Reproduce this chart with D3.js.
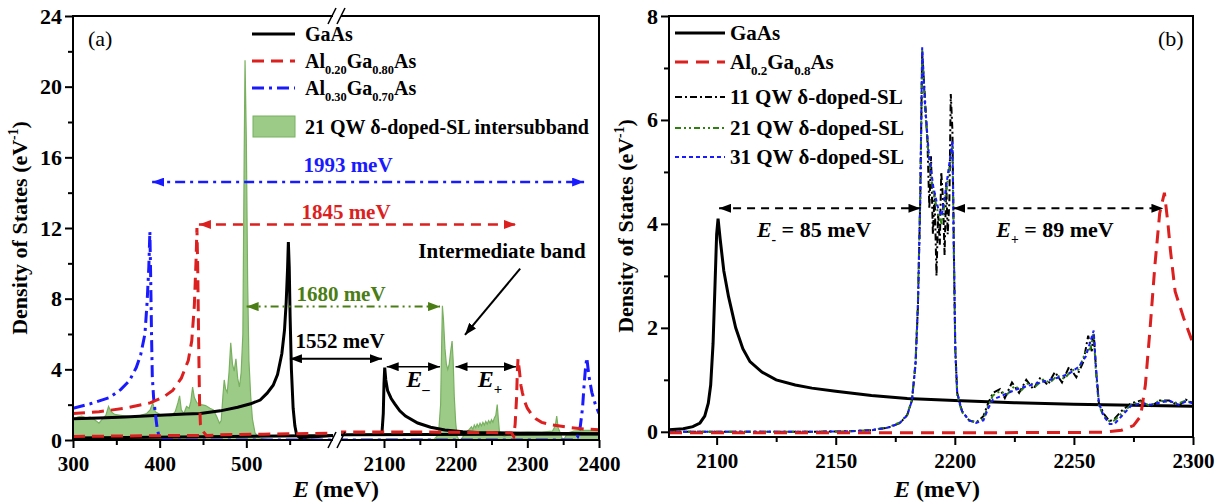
<!DOCTYPE html>
<html>
<head>
<meta charset="utf-8">
<script src="https://cdn.jsdelivr.net/npm/d3@7"></script>
<style>
body{margin:0;background:#fff;}
svg text{font-family:"Liberation Serif","Tinos","Times New Roman","Times","DejaVu Serif","Noto Serif",serif;font-weight:bold;}
</style>
</head>
<body>
<svg id="chart" width="1230" height="504"></svg>
<script>
// ---- panel (a) data: [E (meV), DOS (eV^-1)] ----
var gaasA = [[300,1.2],[330,1.24],[360,1.3],[400,1.4],[430,1.47],[447,1.5],[470,1.65],[490,1.85],[505,2.05],[516,2.26],[524,2.65],[531,3.1],[536,3.7],[541,4.9],[544,6.2],[546,7.8],[547.5,9.6],[548.5,11.2],[549.5,9.8],[550.5,7.0],[552,4.0],[554,1.8],[556,0.8],[558,0.3],[562,0.1],[570,0.15],[600,0.25]];
var gaasBaseA = [[300,0.12],[600,0.26],[2040,0.3],[2400,0.34]];
var gaasCondA = [[2097,0.3],[2099,1.5],[2100,3.2],[2101,4.1],[2102.5,3.4],[2105,2.8],[2110,2.35],[2115,2.05],[2122,1.65],[2130,1.35],[2147,0.96],[2165,0.72],[2185,0.57],[2210,0.47],[2230,0.42],[2300,0.38],[2400,0.36]];
var alga20A = [[300,1.5],[330,1.6],[360,1.8],[389,2.1],[405,2.45],[415,2.8],[425,3.5],[433,4.5],[437,5.6],[440,7.6],[442,10.2],[443,12.0],[444,9.5],[445,5.5],[446,2.2],[447,0.9],[450,0.5],[454,0.25],[470,0.3],[520,0.33],[600,0.38],[2040,0.45],[2150,0.45],[2250,0.42],[2278,0.4],[2281,0.2],[2283,0.9],[2285,2.4],[2286,3.8],[2287,4.6],[2289,3.9],[2291,3.1],[2293,2.7],[2296,2.2],[2300,1.8],[2305,1.5],[2312,1.2],[2320,1.0],[2335,0.85],[2360,0.7],[2380,0.62],[2400,0.58]];
var alga20BaseA = [[300,0.2],[380,0.24],[454,0.26]];
var alga30A = [[300,1.8],[320,2.05],[342,2.4],[355,2.85],[365,3.35],[373,4.1],[378,4.8],[383,6.0],[385.5,7.8],[387.5,9.8],[388.7,11.8],[389.7,9.0],[390.6,6.0],[391.5,3.6],[393,2.4],[395,1.5],[397,0.7],[399,0.25],[402,0.03],[420,0],[2365,0],[2370,0.15],[2374,0.8],[2377,1.8],[2379,3.0],[2381,4.0],[2383,4.65],[2386,3.6],[2390,2.7],[2395,2.0],[2400,1.5]];
var sl21A = [[300,1.13],[305,1.3],[310,1.35],[315,1.25],[320,1.3],[325,1.15],[330,0.95],[334,1.2],[338,1.4],[341,1.9],[344,1.6],[348,1.45],[355,1.4],[362,1.35],[370,1.3],[378,1.4],[385,1.5],[389,1.7],[392,2.1],[395,1.6],[400,1.45],[407,1.4],[413,1.35],[418,1.6],[421,2.1],[423,2.5],[425,1.7],[428,1.5],[431,1.9],[434,1.8],[436,2.2],[438,3.0],[440,2.4],[443,2.1],[448,2.0],[453,1.95],[458,1.8],[462,1.7],[466,1.3],[469,0.95],[471,1.1],[473,2.5],[474.5,3.4],[476,2.9],[478,2.7],[480,3.8],[482,5.5],[484,4.3],[486,3.9],[488,4.6],[490,3.5],[492,3.0],[494,3.8],[496,6.0],[497.5,16.0],[498.5,21.5],[500,17.0],[501.5,9.0],[503,4.5],[505,2.5],[507,1.2],[510,0.4],[515,0.1],[525,0.02],[600,0.02],[2040,0.02],[2170,0.05],[2176,0.3],[2179,2.0],[2180.5,5.5],[2181.5,7.6],[2183,6.8],[2185,5.2],[2187,4.3],[2189,4.0],[2191,4.3],[2193,5.0],[2195,5.6],[2196.5,4.5],[2198,2.5],[2200,1.0],[2202,0.2],[2205,0.0],[2208,0.05],[2212,0.3],[2216,0.5],[2219,0.6],[2222,0.75],[2224,0.6],[2226,0.85],[2228,0.7],[2230,0.9],[2232,0.75],[2234,0.95],[2236,0.8],[2238,1.0],[2240,0.85],[2242,1.05],[2244,0.9],[2246,1.1],[2248,0.95],[2250,1.15],[2252,1.0],[2254,1.25],[2256,1.4],[2258,2.0],[2259.5,1.2],[2261,0.5],[2264,0.3],[2268,0.2],[2275,0.35],[2285,0.4],[2300,0.45],[2320,0.45],[2335,0.5],[2339,0.8],[2341,1.35],[2343,0.7],[2346,0.4],[2349,0.05],[2352,0.1],[2356,0.4],[2365,0.5],[2380,0.55],[2400,0.55]];

// ---- panel (b) data ----
var gaasB = [[2080,0.04],[2086,0.06],[2090,0.1],[2093,0.17],[2095,0.3],[2096.5,0.55],[2097.5,0.9],[2098.5,1.7],[2099.3,2.8],[2100,3.8],[2100.6,4.1],[2101.5,3.7],[2103,3.1],[2105,2.6],[2108,2.0],[2111,1.6],[2114,1.35],[2119,1.15],[2125,1.0],[2133,0.9],[2140,0.84],[2150,0.78],[2165,0.7],[2180,0.64],[2200,0.6],[2225,0.56],[2250,0.53],[2275,0.51],[2300,0.49]];
var alga20B = [[2080,-0.02],[2200,-0.02],[2262,-0.01],[2270,0.03],[2275,0.12],[2278,0.3],[2280,0.9],[2282,2.0],[2284,3.2],[2286,4.2],[2288,4.6],[2289.5,4.0],[2290.5,3.5],[2292.5,2.7],[2296,2.2],[2300,1.7]];
var sl11B = [[2080,0],[2140,0],[2155,0.01],[2165,0.03],[2172,0.08],[2177,0.17],[2180,0.32],[2182,0.6],[2183.5,1.3],[2184.5,2.4],[2185.5,4.5],[2186.3,7.3],[2187.5,6.4],[2188.5,5.6],[2189.3,4.3],[2190,5.3],[2190.8,3.8],[2191.5,4.6],[2192.3,3.0],[2193,4.2],[2193.7,3.6],[2194.3,5.0],[2195,4.5],[2195.7,3.4],[2196.4,4.8],[2197,3.8],[2197.7,4.4],[2198.3,6.5],[2199,5.8],[2199.6,3.5],[2200.2,1.6],[2201,0.75],[2203,0.4],[2206,0.22],[2209,0.18],[2212,0.3],[2214,0.55],[2216,0.75],[2219,0.82],[2221,0.65],[2224,0.95],[2227,0.75],[2230,1.0],[2233,0.82],[2236,1.05],[2239,0.9],[2242,1.15],[2245,0.95],[2248,1.25],[2251,1.05],[2254,1.35],[2256,1.85],[2257.5,1.55],[2258.3,1.9],[2259.3,1.2],[2260.5,0.55],[2262.5,0.35],[2265,0.2],[2267,0.25],[2270,0.4],[2274,0.55],[2278,0.6],[2282,0.48],[2286,0.6],[2290,0.6],[2294,0.5],[2297,0.62],[2300,0.55]];
var sl21B = [[2080,0],[2140,0],[2155,0.01],[2165,0.03],[2172,0.09],[2177,0.18],[2180,0.33],[2182,0.62],[2183.5,1.35],[2184.5,2.5],[2185.5,4.6],[2186.3,7.35],[2187.5,6.2],[2189,5.3],[2191,4.6],[2193,4.2],[2194.5,4.0],[2196,4.5],[2197.5,5.0],[2199,5.5],[2199.6,3.4],[2200.2,1.5],[2201,0.7],[2203,0.38],[2206,0.22],[2209,0.18],[2212,0.25],[2214,0.5],[2216,0.7],[2219,0.78],[2222,0.72],[2225,0.88],[2228,0.8],[2231,0.95],[2234,0.88],[2237,1.0],[2240,0.95],[2243,1.08],[2246,1.02],[2249,1.18],[2252,1.2],[2255,1.55],[2257,1.6],[2258.3,1.9],[2259.3,1.1],[2260.5,0.5],[2262.5,0.3],[2265,0.2],[2267,0.22],[2270,0.35],[2274,0.52],[2278,0.58],[2282,0.5],[2286,0.6],[2290,0.58],[2294,0.55],[2297,0.6],[2300,0.55]];
var sl31B = [[2080,0],[2140,0],[2155,0.01],[2165,0.03],[2172,0.08],[2177,0.17],[2180,0.32],[2182,0.6],[2183.5,1.3],[2184.5,2.4],[2185.5,4.5],[2186.3,7.4],[2187.5,6.3],[2189,5.4],[2191,4.7],[2193,4.3],[2194.5,4.15],[2196,4.6],[2197.5,5.1],[2199,5.6],[2199.6,3.5],[2200.2,1.6],[2201,0.75],[2203,0.4],[2206,0.22],[2209,0.17],[2212,0.22],[2214,0.45],[2216,0.62],[2220,0.7],[2224,0.78],[2228,0.85],[2232,0.9],[2236,0.95],[2240,1.0],[2244,1.05],[2248,1.12],[2252,1.25],[2255,1.45],[2257,1.75],[2258.3,1.95],[2259.3,1.2],[2260.5,0.55],[2262.5,0.3],[2265,0.15],[2267,0.15],[2270,0.3],[2274,0.5],[2278,0.55],[2282,0.52],[2286,0.56],[2290,0.6],[2294,0.52],[2297,0.58],[2300,0.55]];

// tick labels
var yTicksA = [0,4,8,12,16,20,24];
var xTicksA = [300,400,500,2100,2200,2300,2400];
var yTicksB = [0,2,4,6,8];
var xTicksB = [2100,2150,2200,2250,2300];

// annotated energy gaps: [label, from, to, y]
var gapsA = [["1993 meV",389,2382,14.6],["1845 meV",443,2287,12.2],["1680 meV",498,2181,7.55],["1552 meV",548,2100,4.6]];
var subGapsA = [[2101,2181,4.15],[2197,2287,4.15]];
var gapsB = [[2100.6,2186,4.3],[2199,2288,4.3]];

var svg = d3.select("#chart");
var RED = "#dc1f1f", BLUE = "#1a1aff", GREEN = "#4a7d14", GREEN2 = "#2f8010", FILL = "#9ccb88";
var FONT = '"Liberation Serif","Tinos","Times New Roman","Times","DejaVu Serif","Noto Serif",serif';

// scales
var xA = d3.scaleLinear().domain([300,600,2040,2400]).range([73,333,341,599]);
var yA = d3.scaleLinear().domain([0,24]).range([440,16]);
var xB = d3.scaleLinear().domain([2080,2300]).range([669,1193]);
var yB = d3.scaleLinear().domain([-0.1,8]).range([437,16]);

// markers
var defs = svg.append("defs");
[["black","#000"],["red",RED],["blue",BLUE],["green",GREEN]].forEach(function(c){
    defs.append("marker").attr("id","arr-"+c[0])
        .attr("viewBox","0 0 12 9").attr("refX",12).attr("refY",4.5)
        .attr("markerWidth",12).attr("markerHeight",9)
        .attr("markerUnits","userSpaceOnUse").attr("orient","auto-start-reverse")
        .append("path").attr("d","M0,0L12,4.5L0,9Z").attr("fill",c[1]);
});
var clipA = defs.append("clipPath").attr("id","clipA");
clipA.append("rect").attr("x",73).attr("y",16).attr("width",260).attr("height",424);
clipA.append("rect").attr("x",341).attr("y",16).attr("width",258).attr("height",424);
defs.append("clipPath").attr("id","clipB").append("rect")
    .attr("x",669).attr("y",16).attr("width",524).attr("height",421);

// rich text helper: parts [text, kind]
function rich(t, parts, fs){
    var shift = 0;
    t.attr("font-family", FONT);
    parts.forEach(function(p){
        var target = 0, s = t.append("tspan").text(p[0]);
        if(p[1] === "sub"){ target = fs*0.3; s.attr("font-size", fs*0.62); }
        if(p[1] === "sup"){ target = -fs*0.4; s.attr("font-size", fs*0.62); }
        if(p[1] === "it"){ s.attr("font-style","italic"); }
        if(target !== shift){ s.attr("dy", target - shift); shift = target; }
    });
    return t;
}

// ================= panel (a) =================
var gA = svg.append("g");
var plotA = gA.append("g").attr("clip-path","url(#clipA)");
var lineA = d3.line().x(function(d){ return xA(d[0]); }).y(function(d){ return yA(d[1]); });
var areaA = d3.area().x(function(d){ return xA(d[0]); }).y0(yA(0)).y1(function(d){ return yA(d[1]); });

plotA.append("path").attr("d", areaA(sl21A)).attr("fill", FILL).attr("stroke","#79b060").attr("stroke-width",1.2);
plotA.append("path").attr("d", lineA(gaasBaseA)).attr("fill","none").attr("stroke","#000").attr("stroke-width",3);
plotA.append("path").attr("d", lineA(gaasA)).attr("fill","none").attr("stroke","#000").attr("stroke-width",3);
plotA.append("path").attr("d", lineA(gaasCondA)).attr("fill","none").attr("stroke","#000").attr("stroke-width",3);
plotA.append("path").attr("d", lineA(alga30A)).attr("fill","none").attr("stroke",BLUE).attr("stroke-width",3).attr("stroke-dasharray","12,5,3,5");
plotA.append("path").attr("d", lineA(alga20BaseA)).attr("fill","none").attr("stroke",RED).attr("stroke-width",3).attr("stroke-dasharray","12,7");
plotA.append("path").attr("d", lineA(alga20A)).attr("fill","none").attr("stroke",RED).attr("stroke-width",3).attr("stroke-dasharray","12,7");

// gap arrows
var gapStyle = [[BLUE,"blue","10,5,3,5",2.5],[RED,"red","10,7",2.5],[GREEN,"green","8,4,2,4,2,4",2],["#000","black",null,2]];
var gapText = [[348,172],[346,219],[341,301],[340,348]];
gapsA.forEach(function(g, i){
    var st = gapStyle[i];
    gA.append("line").attr("x1",xA(g[1])+2).attr("x2",xA(g[2])-2).attr("y1",yA(g[3])).attr("y2",yA(g[3]))
        .attr("stroke",st[0]).attr("stroke-width",st[3]).attr("stroke-dasharray",st[2])
        .attr("marker-start","url(#arr-"+st[1]+")").attr("marker-end","url(#arr-"+st[1]+")");
    rich(gA.append("text").attr("x",gapText[i][0]).attr("y",gapText[i][1]).attr("text-anchor","middle")
        .attr("font-size",21).attr("fill",st[0]), [[g[0],""]], 21);
});
subGapsA.forEach(function(g){
    gA.append("line").attr("x1",xA(g[0])+2).attr("x2",xA(g[1])-2).attr("y1",yA(g[2])).attr("y2",yA(g[2]))
        .attr("stroke","#000").attr("stroke-width",1.5)
        .attr("marker-start","url(#arr-black)").attr("marker-end","url(#arr-black)");
});
rich(gA.append("text").attr("x",418).attr("y",387).attr("text-anchor","middle").attr("font-size",24), [["E","it"],["\u2013","sub"]], 24);
rich(gA.append("text").attr("x",490).attr("y",387).attr("text-anchor","middle").attr("font-size",24), [["E","it"],["+","sub"]], 24);
rich(gA.append("text").attr("x",502).attr("y",258).attr("text-anchor","middle").attr("font-size",21), [["Intermediate band",""]], 21);
gA.append("line").attr("x1",xA(2290)).attr("y1",yA(9.7)).attr("x2",xA(2213)).attr("y2",yA(5.95))
    .attr("stroke","#000").attr("stroke-width",2).attr("marker-end","url(#arr-black)");

// frame with axis break
var fr = gA.append("g").attr("stroke","#000").attr("stroke-width",2).attr("fill","none");
fr.append("line").attr("x1",73).attr("x2",73).attr("y1",15).attr("y2",441);
fr.append("line").attr("x1",599).attr("x2",599).attr("y1",15).attr("y2",441);
[16,440].forEach(function(yy){
    fr.append("line").attr("x1",72).attr("x2",333).attr("y1",yy).attr("y2",yy);
    fr.append("line").attr("x1",341).attr("x2",600).attr("y1",yy).attr("y2",yy);
    fr.append("line").attr("x1",328).attr("x2",336).attr("y1",yy+8).attr("y2",yy-8).attr("stroke-width",1.5);
    fr.append("line").attr("x1",337).attr("x2",345).attr("y1",yy+8).attr("y2",yy-8).attr("stroke-width",1.5);
});

// axes
function styleAxis(fs){
    return function(g){
        g.attr("font-family", FONT);
        g.select(".domain").remove();
        g.selectAll(".tick line").attr("stroke","#000").attr("stroke-width",2);
        g.selectAll(".tick text").attr("font-size",fs).attr("fill","#000").attr("font-family",FONT).attr("font-weight","bold");
    };
}
gA.append("g").attr("transform","translate(73,0)")
    .call(d3.axisLeft(yA).tickValues(yTicksA).tickSize(8).tickPadding(3)).call(styleAxis(22));
gA.append("g").attr("transform","translate(73,0)")
    .call(d3.axisLeft(yA).tickValues([2,6,10,14,18,22]).tickSize(5).tickFormat("")).call(styleAxis(22));
gA.append("g").attr("transform","translate(0,440)")
    .call(d3.axisBottom(xA).tickValues(xTicksA).tickSize(8).tickPadding(8).tickFormat(d3.format("d"))).call(styleAxis(21));
gA.append("g").attr("transform","translate(0,440)")
    .call(d3.axisBottom(xA).tickValues([350,450,550,2150,2250,2350]).tickSize(5).tickFormat("")).call(styleAxis(21));

rich(gA.append("text").attr("x",88).attr("y",46).attr("font-size",22).attr("font-weight","normal").style("font-weight","normal"), [["(a)",""]], 22);
rich(gA.append("text").attr("transform","translate(27,228) rotate(-90)").attr("text-anchor","middle").attr("font-size",22),
    [["Density of States (eV",""],["-1","sup"],[")",""]], 22);
rich(gA.append("text").attr("x",336).attr("y",497).attr("text-anchor","middle").attr("font-size",24),
    [["E","it"],[" (meV)",""]], 24);

// legend (a)
var legA = gA.append("g");
legA.append("line").attr("x1",252).attr("x2",295).attr("y1",34).attr("y2",34).attr("stroke","#000").attr("stroke-width",3);
legA.append("line").attr("x1",252).attr("x2",295).attr("y1",61).attr("y2",61).attr("stroke",RED).attr("stroke-width",3).attr("stroke-dasharray","12,7");
legA.append("line").attr("x1",252).attr("x2",295).attr("y1",88).attr("y2",88).attr("stroke",BLUE).attr("stroke-width",3).attr("stroke-dasharray","12,5,3,5");
legA.append("rect").attr("x",253).attr("y",116).attr("width",42).attr("height",21).attr("fill",FILL).attr("stroke","#79b060");
rich(legA.append("text").attr("x",305).attr("y",41).attr("font-size",20), [["GaAs",""]], 20);
rich(legA.append("text").attr("x",305).attr("y",68).attr("font-size",20), [["Al",""],["0.20","sub"],["Ga",""],["0.80","sub"],["As",""]], 20);
rich(legA.append("text").attr("x",305).attr("y",95).attr("font-size",20), [["Al",""],["0.30","sub"],["Ga",""],["0.70","sub"],["As",""]], 20);
rich(legA.append("text").attr("x",305).attr("y",134).attr("font-size",20), [["21 QW \u03b4-doped-SL intersubband",""]], 20);

// ================= panel (b) =================
var gB = svg.append("g");
var plotB = gB.append("g").attr("clip-path","url(#clipB)");
var lineB = d3.line().x(function(d){ return xB(d[0]); }).y(function(d){ return yB(d[1]); });
plotB.append("path").attr("d", lineB(gaasB)).attr("fill","none").attr("stroke","#000").attr("stroke-width",3);
plotB.append("path").attr("d", lineB(sl11B)).attr("fill","none").attr("stroke","#000").attr("stroke-width",2).attr("stroke-dasharray","7,3,2,3");
plotB.append("path").attr("d", lineB(sl21B)).attr("fill","none").attr("stroke",GREEN2).attr("stroke-width",2).attr("stroke-dasharray","6,3,2,3,2,3");
plotB.append("path").attr("d", lineB(sl31B)).attr("fill","none").attr("stroke",BLUE).attr("stroke-width",2).attr("stroke-dasharray","4,3");
plotB.append("path").attr("d", lineB(alga20B)).attr("fill","none").attr("stroke",RED).attr("stroke-width",3).attr("stroke-dasharray","13,8");

gapsB.forEach(function(g){
    gB.append("line").attr("x1",xB(g[0])+1).attr("x2",xB(g[1])-1).attr("y1",yB(g[2])).attr("y2",yB(g[2]))
        .attr("stroke","#000").attr("stroke-width",2).attr("stroke-dasharray","8,6")
        .attr("marker-start","url(#arr-black)").attr("marker-end","url(#arr-black)");
});
rich(gB.append("text").attr("x",814).attr("y",237).attr("text-anchor","middle").attr("font-size",22),
    [["E","it"],["-","sub"],[" = 85 meV",""]], 22);
rich(gB.append("text").attr("x",1055).attr("y",237).attr("text-anchor","middle").attr("font-size",22),
    [["E","it"],["+","sub"],[" = 89 meV",""]], 22);

gB.append("rect").attr("x",669).attr("y",16).attr("width",524).attr("height",421)
    .attr("fill","none").attr("stroke","#000").attr("stroke-width",2);
gB.append("g").attr("transform","translate(669,0)")
    .call(d3.axisLeft(yB).tickValues(yTicksB).tickSize(8).tickPadding(3)).call(styleAxis(22));
gB.append("g").attr("transform","translate(669,0)")
    .call(d3.axisLeft(yB).tickValues([1,3,5,7]).tickSize(5).tickFormat("")).call(styleAxis(22));
gB.append("g").attr("transform","translate(0,437)")
    .call(d3.axisBottom(xB).tickValues(xTicksB).tickSize(8).tickPadding(8).tickFormat(d3.format("d"))).call(styleAxis(21));
gB.append("g").attr("transform","translate(0,437)")
    .call(d3.axisBottom(xB).tickValues([2125,2175,2225,2275]).tickSize(5).tickFormat("")).call(styleAxis(21));

rich(gB.append("text").attr("x",1158).attr("y",46).attr("font-size",22).attr("font-weight","normal").style("font-weight","normal"), [["(b)",""]], 22);
rich(gB.append("text").attr("transform","translate(633,226) rotate(-90)").attr("text-anchor","middle").attr("font-size",22),
    [["Density of States  (eV",""],["-1","sup"],[")",""]], 22);
rich(gB.append("text").attr("x",937).attr("y",497).attr("text-anchor","middle").attr("font-size",24),
    [["E","it"],[" (meV)",""]], 24);

// legend (b)
var legB = gB.append("g");
var legRowsB = [33,62,97,128,157];
legB.append("line").attr("x1",675).attr("x2",725).attr("y1",legRowsB[0]).attr("y2",legRowsB[0]).attr("stroke","#000").attr("stroke-width",3);
legB.append("line").attr("x1",675).attr("x2",725).attr("y1",legRowsB[1]).attr("y2",legRowsB[1]).attr("stroke",RED).attr("stroke-width",3).attr("stroke-dasharray","13,8");
legB.append("line").attr("x1",675).attr("x2",725).attr("y1",legRowsB[2]).attr("y2",legRowsB[2]).attr("stroke","#000").attr("stroke-width",2).attr("stroke-dasharray","7,3,2,3");
legB.append("line").attr("x1",675).attr("x2",725).attr("y1",legRowsB[3]).attr("y2",legRowsB[3]).attr("stroke",GREEN2).attr("stroke-width",2).attr("stroke-dasharray","6,3,2,3,2,3");
legB.append("line").attr("x1",675).attr("x2",725).attr("y1",legRowsB[4]).attr("y2",legRowsB[4]).attr("stroke",BLUE).attr("stroke-width",2).attr("stroke-dasharray","4,3");
var legLabelsB = [[["GaAs",""]],[["Al",""],["0.2","sub"],["Ga",""],["0.8","sub"],["As",""]],
    [["11 QW \u03b4-doped-SL",""]],[["21 QW \u03b4-doped-SL",""]],[["31 QW \u03b4-doped-SL",""]]];
legLabelsB.forEach(function(p, i){
    rich(legB.append("text").attr("x",730).attr("y",legRowsB[i]+7).attr("font-size",21), p, 21);
});
</script>
</body>
</html>
